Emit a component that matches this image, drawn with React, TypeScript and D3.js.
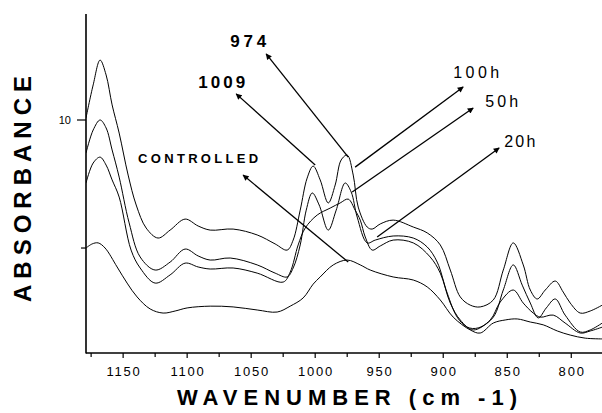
import React from "react";
import * as d3 from "d3";

// Wavenumber (cm-1), absorbance pairs
const series100h: [number, number][] = [
  [1179, 10.08], [1173.4, 11.37], [1168, 12.34], [1163.3, 11.76], [1158.6, 10.59], [1153.1, 9.49],
  [1146.1, 7.85], [1139.8, 6.68], [1132, 5.78], [1122.7, 5.39], [1113.3, 5.7], [1101.6, 6.13],
  [1091.4, 5.86], [1082, 5.7], [1064.1, 5.74], [1045.3, 5.51], [1031.3, 5.16], [1021.9, 4.92],
  [1017.2, 5.31], [1011.7, 6.48], [1006.3, 7.73], [1001.6, 8.2], [996.1, 7.66], [989.8, 6.76],
  [984.4, 7.46], [979.7, 8.44], [975, 8.63], [970.3, 7.85], [966.4, 6.6], [959.4, 5.82],
  [955.5, 5.74], [949.2, 5.94], [939.1, 6.09], [923.4, 5.82], [912.5, 5.59], [902.3, 5.12],
  [894.5, 4.14], [886.7, 3.09], [878.9, 2.77], [871.1, 2.7], [860.9, 2.97], [853.1, 4.14],
  [845.3, 5.2], [837.5, 4.34], [832, 3.36], [826.6, 3.01], [820.3, 3.36], [812.5, 3.71],
  [806.3, 3.28], [800.8, 2.85], [793, 2.46], [785.2, 2.54], [775.8, 2.77],
];
const series50h: [number, number][] = [
  [1179, 8.71], [1173.4, 9.61], [1168, 10.0], [1163.3, 9.69], [1158.6, 8.83], [1153.1, 7.77],
  [1145.3, 5.98], [1136.7, 4.65], [1125, 4.14], [1113.3, 4.45], [1101.6, 4.96], [1091.4, 4.69],
  [1082, 4.53], [1066.4, 4.61], [1045.3, 4.34], [1031.3, 4.02], [1021.9, 3.87], [1017.2, 4.22],
  [1011.7, 5.12], [1007, 6.48], [1002.3, 7.15], [996.9, 6.68], [989.8, 5.7], [983.6, 6.48],
  [976.6, 7.54], [971.9, 7.19], [967.2, 6.21], [959.4, 5.2], [953.1, 5.31], [939.1, 5.47],
  [923.4, 5.39], [912.5, 5.04], [904.7, 4.45], [896.9, 3.24], [889.1, 2.3], [881.3, 1.91],
  [872.7, 1.88], [860.9, 2.3], [853.1, 3.36], [845.3, 4.34], [838.3, 3.55], [832, 2.85],
  [825.8, 2.27], [819.5, 2.66], [812.5, 3.01], [804.8, 2.38], [793, 1.72], [785.2, 1.8],
  [775.8, 2.07],
];
const series20h: [number, number][] = [
  [1179, 7.54], [1173.4, 8.32], [1168, 8.55], [1163.3, 8.24], [1158.6, 7.66], [1153.1, 6.99],
  [1143.8, 4.92], [1136.7, 4.22], [1125, 3.63], [1113.3, 3.95], [1101.6, 4.41], [1091.4, 4.26],
  [1082, 4.18], [1064.1, 4.22], [1045.3, 4.02], [1025, 3.67], [1019.5, 4.06], [1013.3, 5.12],
  [1007.8, 5.78], [998.4, 6.29], [988.3, 6.56], [980.5, 6.76], [974.2, 6.91], [968.8, 6.48],
  [964.8, 6.09], [960.9, 5.43], [955.5, 4.92], [949.2, 5.08], [939.1, 5.31], [923.4, 5.2],
  [910.2, 4.65], [902.3, 4.02], [894.5, 2.85], [886.7, 2.19], [876.6, 1.8], [863.3, 2.19],
  [855.5, 2.89], [845.3, 3.36], [837.5, 2.85], [829.7, 2.46], [824.2, 2.3], [814.1, 2.38],
  [804.8, 2.07], [793, 1.68], [785.2, 1.76], [775.8, 1.91],
];
const seriesControlled: [number, number][] = [
  [1179, 5.0], [1174.2, 5.16], [1169.5, 5.2], [1164.1, 5.0], [1154.7, 4.26], [1146.9, 3.63],
  [1139.1, 3.09], [1128.9, 2.62], [1118.8, 2.46], [1109.4, 2.54], [1100, 2.66], [1082, 2.73],
  [1064.1, 2.7], [1045.3, 2.58], [1029.7, 2.5], [1019.5, 2.73], [1009.4, 3.05], [1001.6, 3.59],
  [996.1, 3.87], [985.9, 4.34], [975, 4.53], [964.8, 4.34], [957, 4.14], [939.1, 3.87],
  [923.4, 3.75], [912.5, 3.48], [902.3, 2.97], [892.2, 2.3], [878.9, 1.8], [871.1, 1.68],
  [860.9, 2.07], [851.6, 2.19], [842.2, 2.23], [832, 2.11], [821.9, 2.0], [810.9, 1.76],
  [800.8, 1.6], [789.1, 1.48], [775.8, 1.45],
];

const xMajorTicks = [1150, 1100, 1050, 1000, 950, 900, 850, 800];
const xMinorTicks = [1175, 1125, 1075, 1025, 975, 925, 875, 825, 775];
const yMajorTicks = [10];
const yMinorTicks = [5];

// annotations: [label, textWave, textAbs, tailWave, tailAbs, headWave, headAbs, bold, size]
const annotations: [string, number, number, number, number, number, number, boolean, number, number][] = [
  ["974", 1066.4, 12.85, 974.2, 8.55, 1038.3, 12.58, true, 17, 36],
  ["1009", 1091.4, 11.25, 1000, 8.24, 1061.7, 11.02, true, 17, 47],
  ["CONTROLLED", 1138.3, 8.32, 974.2, 4.45, 1056.3, 7.85, true, 13, 120],
  ["100h", 892.2, 11.64, 968.8, 8.16, 884.4, 11.29, false, 16, 46],
  ["50h", 867.2, 10.51, 971.1, 7.19, 876.6, 10.47, false, 16, 33],
  ["20h", 852.3, 8.95, 951.6, 5.43, 856.3, 8.91, false, 16, 31],
];

const FONT = "'Liberation Sans', Arial, Helvetica, sans-serif";

export default function App() {
  const W = 602, H = 413;
  const left = 86, right = 602, top = 14, bottom = 353;
  const x = d3.scaleLinear().domain([1179, 776]).range([left, right]);
  const y = d3.scaleLinear().domain([0.9, 14.14]).range([bottom, top]);
  const line = d3
    .line<[number, number]>()
    .x((d) => x(d[0]))
    .y((d) => y(d[1]))
    .curve(d3.curveCatmullRom.alpha(0.5));

  const all = [series100h, series50h, series20h, seriesControlled];

  return (
    <svg
      width={W}
      height={H}
      viewBox={`0 0 ${W} ${H}`}
      style={{ position: "absolute", left: 0, top: 0, background: "#fff" }}
    >
      <defs>
        <clipPath id="plot">
          <rect x={left} y={top} width={right - left} height={bottom - top} />
        </clipPath>
        <marker
          id="arrow"
          viewBox="0 0 10 10"
          refX="9"
          refY="5"
          markerWidth="8"
          markerHeight="6"
          markerUnits="userSpaceOnUse"
          orient="auto"
        >
          <path d="M0,0 L10,5 L0,10 z" fill="#000" />
        </marker>
      </defs>
      <rect x={0} y={0} width={W} height={H} fill="#fff" />

      <g clipPath="url(#plot)">
        {all.map((s, i) => (
          <path key={i} d={line(s) || ""} fill="none" stroke="#000" strokeWidth={1} />
        ))}
      </g>

      {/* axes */}
      <line x1={left} y1={top} x2={left} y2={bottom + 0.5} stroke="#000" strokeWidth={1.6} />
      <line x1={left} y1={bottom} x2={right} y2={bottom} stroke="#000" strokeWidth={1.6} />

      {xMajorTicks.map((t) => (
        <g key={"xm" + t}>
          <line x1={x(t)} x2={x(t)} y1={bottom} y2={bottom + 5} stroke="#000" strokeWidth={1.2} />
          <text
            x={x(t) + 0.9}
            y={376}
            textAnchor="middle"
            fontFamily={FONT}
            fontSize={13}
            letterSpacing={1.8}
            fill="#000"
          >
            {t}
          </text>
        </g>
      ))}
      {xMinorTicks.map((t) => (
        <line key={"xn" + t} x1={x(t)} x2={x(t)} y1={bottom} y2={bottom + 4} stroke="#000" strokeWidth={1.2} />
      ))}
      {yMajorTicks.map((t) => (
        <g key={"ym" + t}>
          <line x1={left - 9} x2={left} y1={y(t)} y2={y(t)} stroke="#000" strokeWidth={1.2} />
          <text x={71} y={y(t) + 4} textAnchor="end" fontFamily={FONT} fontSize={11} fill="#000">
            {t}
          </text>
        </g>
      ))}
      {yMinorTicks.map((t) => (
        <line key={"yn" + t} x1={left - 5} x2={left} y1={y(t)} y2={y(t)} stroke="#000" strokeWidth={1.2} />
      ))}

      {/* axis titles */}
      <text
        x={177}
        y={405}
        fontFamily={FONT}
        fontWeight="bold"
        fontSize={22}
        textLength={340}
        lengthAdjust="spacing"
        fill="#000"
      >
        WAVENUMBER (cm -1)
      </text>
      <text
        transform={`translate(31, 302) rotate(-90)`}
        x={0}
        y={0}
        fontFamily={FONT}
        fontWeight="bold"
        fontSize={24}
        textLength={226}
        lengthAdjust="spacing"
        fill="#000"
      >
        ABSORBANCE
      </text>

      {/* annotations */}
      {annotations.map(([label, tw, ta, w1, a1, w2, a2, bold, size, len]) => (
        <g key={label}>
          <line
            x1={x(w1)}
            y1={y(a1)}
            x2={x(w2)}
            y2={y(a2)}
            stroke="#000"
            strokeWidth={1.3}
            markerEnd="url(#arrow)"
          />
          <text
            x={x(tw)}
            y={y(ta)}
            fontFamily={FONT}
            fontWeight={bold ? "bold" : "normal"}
            fontSize={size}
            textLength={len}
            lengthAdjust="spacing"
            fill="#000"
          >
            {label}
          </text>
        </g>
      ))}
    </svg>
  );
}
